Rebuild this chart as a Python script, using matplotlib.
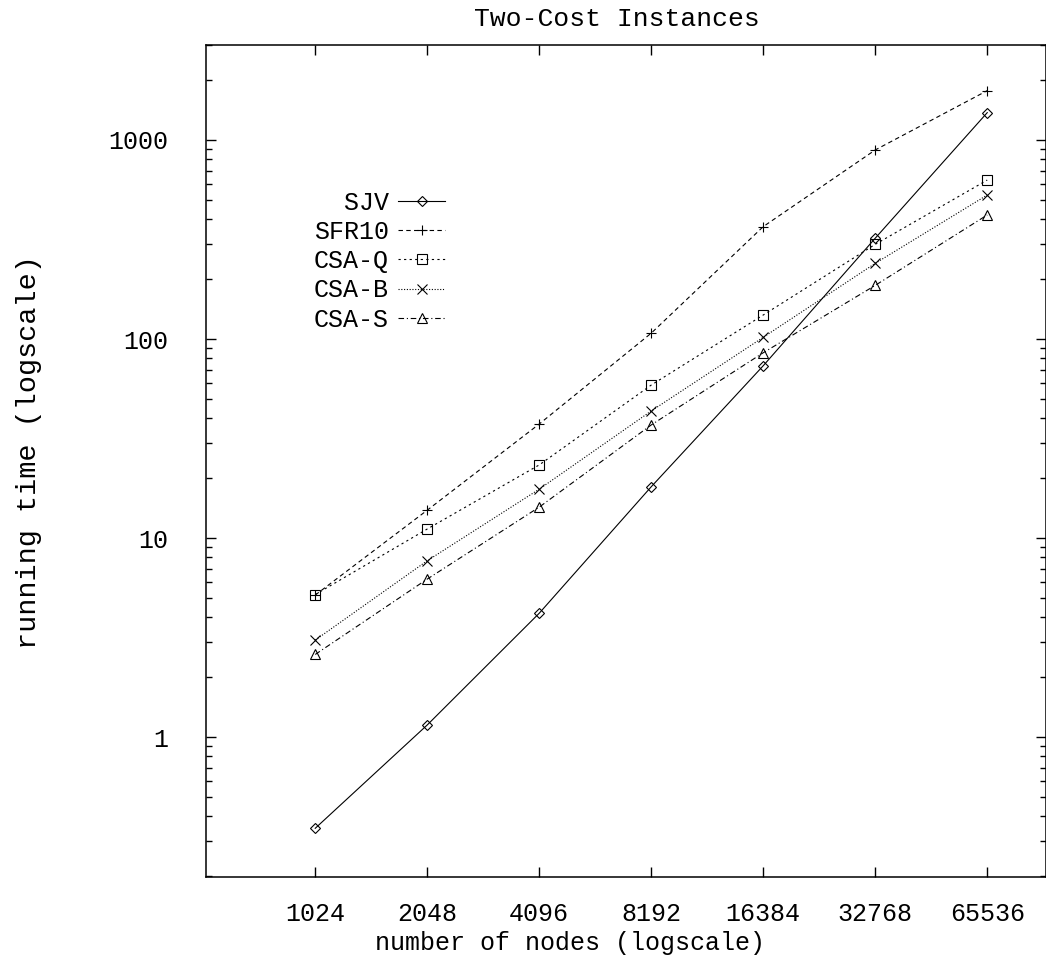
import matplotlib
matplotlib.use("Agg")
import matplotlib.pyplot as plt
from matplotlib.ticker import FixedLocator, NullFormatter, NullLocator

plt.rcParams['font.family'] = ['Liberation Mono', 'DejaVu Sans Mono']

# data (running time vs number of nodes)
nodes = [1024, 2048, 4096, 8192, 16384, 32768, 65536]
sjv = [0.348, 1.15, 4.19, 18.1, 73.4, 321, 1372]
sfr10 = [5.17, 13.8, 37.4, 107, 367, 891, 1770]
csa_q = [5.2, 11.1, 23.3, 58.7, 132, 299, 629]
csa_b = [3.07, 7.69, 17.6, 43.5, 102, 240, 529]
csa_s = [2.60, 6.22, 14.3, 37.0, 85.3, 186, 420]

# label (padded so names line up on the right), values, marker, size, dashes
series = [
    ("  SJV", sjv, 'D', 5.5, '-'),
    ("SFR10", sfr10, '+', 7, (0, (4, 3))),
    ("CSA-Q", csa_q, 's', 7, (0, (2, 3))),
    ("CSA-B", csa_b, 'x', 7, (0, (1, 1.5))),
    ("CSA-S", csa_s, '^', 7, (0, (5, 2.5, 1, 2.5))),
]

y_ticks = [1, 10, 100, 1000]

fig = plt.figure(figsize=(10.46, 9.56), dpi=100)
ax = fig.add_axes([0.1967, 0.0826, 0.8030, 0.8703])

for name, vals, mk, ms, ls in series:
    ax.plot(nodes, vals, color='black', linestyle=ls, linewidth=0.8,
            marker=mk, markersize=ms, markerfacecolor='none',
            markeredgewidth=0.8, label=name)

ax.set_xscale('log', base=2)
ax.set_yscale('log')
ax.set_xlim(520, 94100)
ax.set_ylim(0.198, 3000)

ax.xaxis.set_major_locator(FixedLocator(nodes))
ax.xaxis.set_minor_locator(NullLocator())
ax.set_xticklabels([str(n) for n in nodes])
ax.yaxis.set_major_locator(FixedLocator(y_ticks))
ax.set_yticklabels([str(t) for t in y_ticks])
minor = [m * 10.0 ** e for e in range(-1, 4) for m in range(2, 10)]
ax.yaxis.set_minor_locator(FixedLocator(minor))
ax.yaxis.set_minor_formatter(NullFormatter())

ax.tick_params(which='major', direction='in', length=7, width=1.0,
               top=True, right=True, labelsize=18, pad=18)
ax.tick_params(axis='y', which='major', pad=27)
ax.tick_params(which='minor', direction='in', length=4, width=1.0,
               top=False, right=True)
for sp in ax.spines.values():
    sp.set_linewidth(1.1)

ax.set_xlabel('number of nodes (logscale)', fontsize=18)
ax.xaxis.set_label_coords(0.434, -0.065)
ax.set_ylabel('running time (logscale)', fontsize=20.5)
ax.yaxis.set_label_coords(-0.1945, 0.511)
ax.set_title('Two-Cost Instances', fontsize=19, pad=14, x=0.49)

ax.legend(loc='upper left', bbox_to_anchor=(0.114, 0.84), frameon=False,
          fontsize=18, markerfirst=False, numpoints=1, handlelength=1.9,
          handletextpad=0.35, labelspacing=0.21, borderpad=0)

fig.savefig('out.png', dpi=100)
